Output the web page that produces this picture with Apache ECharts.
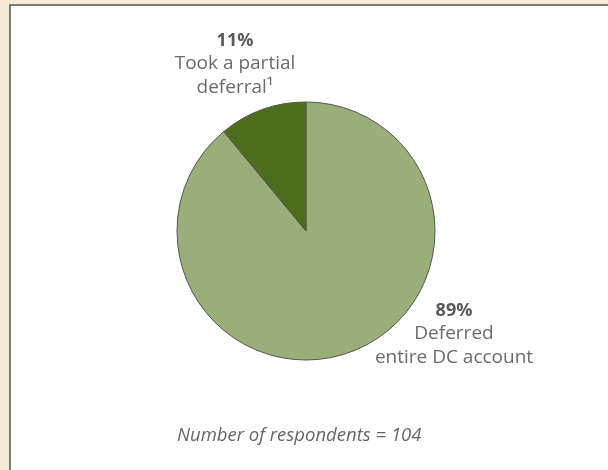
<!DOCTYPE html>
<html>
<head>
<meta charset="utf-8">
<script src="https://cdn.jsdelivr.net/npm/echarts@6/dist/echarts.min.js"></script>
<style>
  html, body { margin: 0; padding: 0; background: #f6ebd6; }
  #chart { width: 608px; height: 470px; }
</style>
</head>
<body>
<div id="chart"></div>
<script>
// Shares of respondents by how they deferred their DC account
const categories = ['Deferred\nentire DC account', 'Took a partial\ndeferral¹'];
const shares = [89, 11];
const sliceColors = ['#9aae7a', '#4d6d1d'];
const respondents = 104;

const chart = echarts.init(document.getElementById('chart'), null, { renderer: 'canvas' });

const data = categories.map((name, i) => ({
  name: name,
  value: shares[i],
  itemStyle: { color: sliceColors[i] }
}));

// label anchor per slice (centre of the text block)
const labelSpots = [
  { x: 454, y: 334 },
  { x: 235, y: 64 }
];

const FONT = '"Open Sans", sans-serif';

chart.setOption({
  animation: false,
  backgroundColor: '#f6ebd6',
  title: {
    text: 'Number of respondents = ' + respondents,
    left: 172,
    top: 421,
    textStyle: {
      fontFamily: FONT,
      fontStyle: 'italic',
      fontWeight: 'normal',
      fontSize: 18.5,
      color: '#666666'
    }
  },
  graphic: [{
    type: 'rect',
    z: -10,
    shape: { x: 10, y: 5, width: 640, height: 500 },
    style: { fill: '#ffffff', stroke: '#7a7a7a', lineWidth: 2 }
  }],
  series: [{
    type: 'pie',
    center: [306, 231],
    radius: 129,
    startAngle: 90,
    clockwise: true,
    data: data,
    itemStyle: { borderColor: '#555555', borderWidth: 1 },
    emphasis: { disabled: true },
    labelLine: { show: false },
    label: {
      show: true,
      position: 'outside',
      formatter: (p) => {
        const lines = p.name.split('\n').map(s => '{txt|' + s + '}');
        return ['{pct|' + p.value + '%}'].concat(lines).join('\n');
      },
      rich: {
        pct: {
          fontFamily: FONT,
          fontWeight: 'bold',
          fontSize: 18,
          color: '#5a5a5a',
          lineHeight: 23.5
        },
        txt: {
          fontFamily: FONT,
          fontSize: 19,
          color: '#6b6b6b',
          lineHeight: 23.5
        }
      }
    },
    labelLayout: (params) => {
      const s = labelSpots[params.dataIndex];
      return { x: s.x, y: s.y, align: 'center', verticalAlign: 'middle' };
    }
  }]
});
</script>
</body>
</html>
